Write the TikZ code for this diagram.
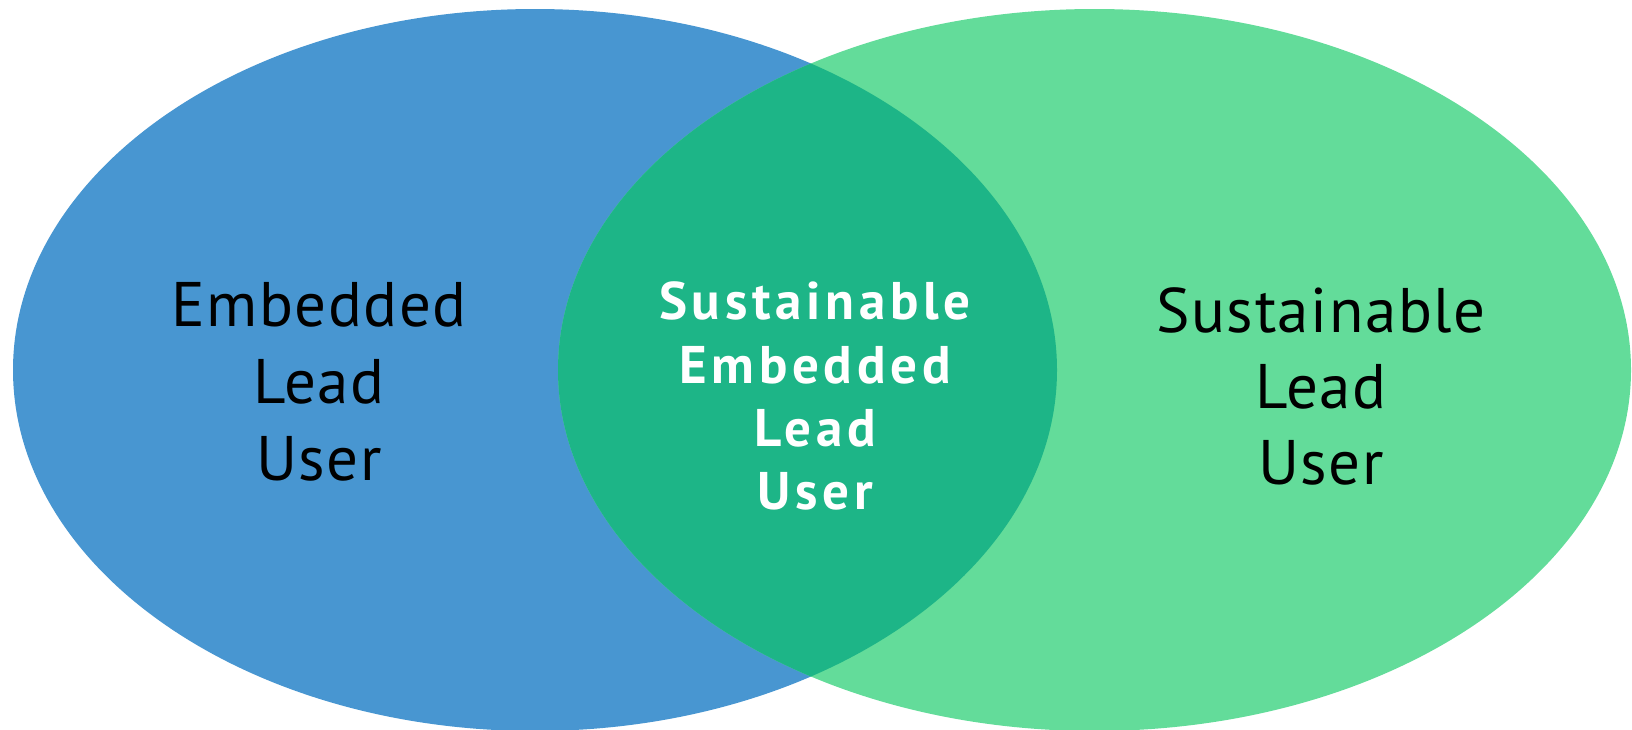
\documentclass[tikz,border=0pt]{standalone}
\usepackage{fontspec}
\setmainfont{PT Sans}
\newfontfamily\midfont[LetterSpace=9]{PT Sans}
\newfontfamily\sidefont[LetterSpace=2.5]{PT Sans}
\definecolor{leftblue}{RGB}{72,150,209}
\definecolor{rightgreen}{RGB}{99,220,154}
\definecolor{midgreen}{RGB}{29,181,135}
\begin{document}
\begin{tikzpicture}[x=1pt,y=-1pt,
  sidetext/.style={anchor=base,inner sep=0pt,text=black,font=\sidefont\fontsize{63}{76}\selectfont},
  midtext/.style={anchor=base,inner sep=0pt,text=white,font=\midfont\fontsize{53}{63}\bfseries\selectfont}]
\useasboundingbox (0,0) rectangle (1632,729);
\fill[leftblue] (535,370) ellipse [x radius=522, y radius=361];
\fill[rightgreen] (1094.5,370) ellipse [x radius=536.5, y radius=361];
\begin{scope}
  \clip (535,370) ellipse [x radius=522, y radius=361];
  \fill[midgreen] (1094.5,370) ellipse [x radius=536.5, y radius=361];
\end{scope}
\node[sidetext] (l1) at (319,326) {Embedded};
\node[sidetext] (l2) at (319,403) {Lead};
\node[sidetext] (l3) at (319,480) {User};
\node[sidetext] (r1) at (1321,332) {Sustainable};
\node[sidetext] (r2) at (1321,408) {Lead};
\node[sidetext] (r3) at (1321,484) {User};
\node[midtext] (m1) at (815,319) {Sustainable};
\node[midtext] (m2) at (815,383) {Embedded};
\node[midtext] (m3) at (815,446) {Lead};
\node[midtext] (m4) at (815,509) {User};
\end{tikzpicture}
\end{document}
